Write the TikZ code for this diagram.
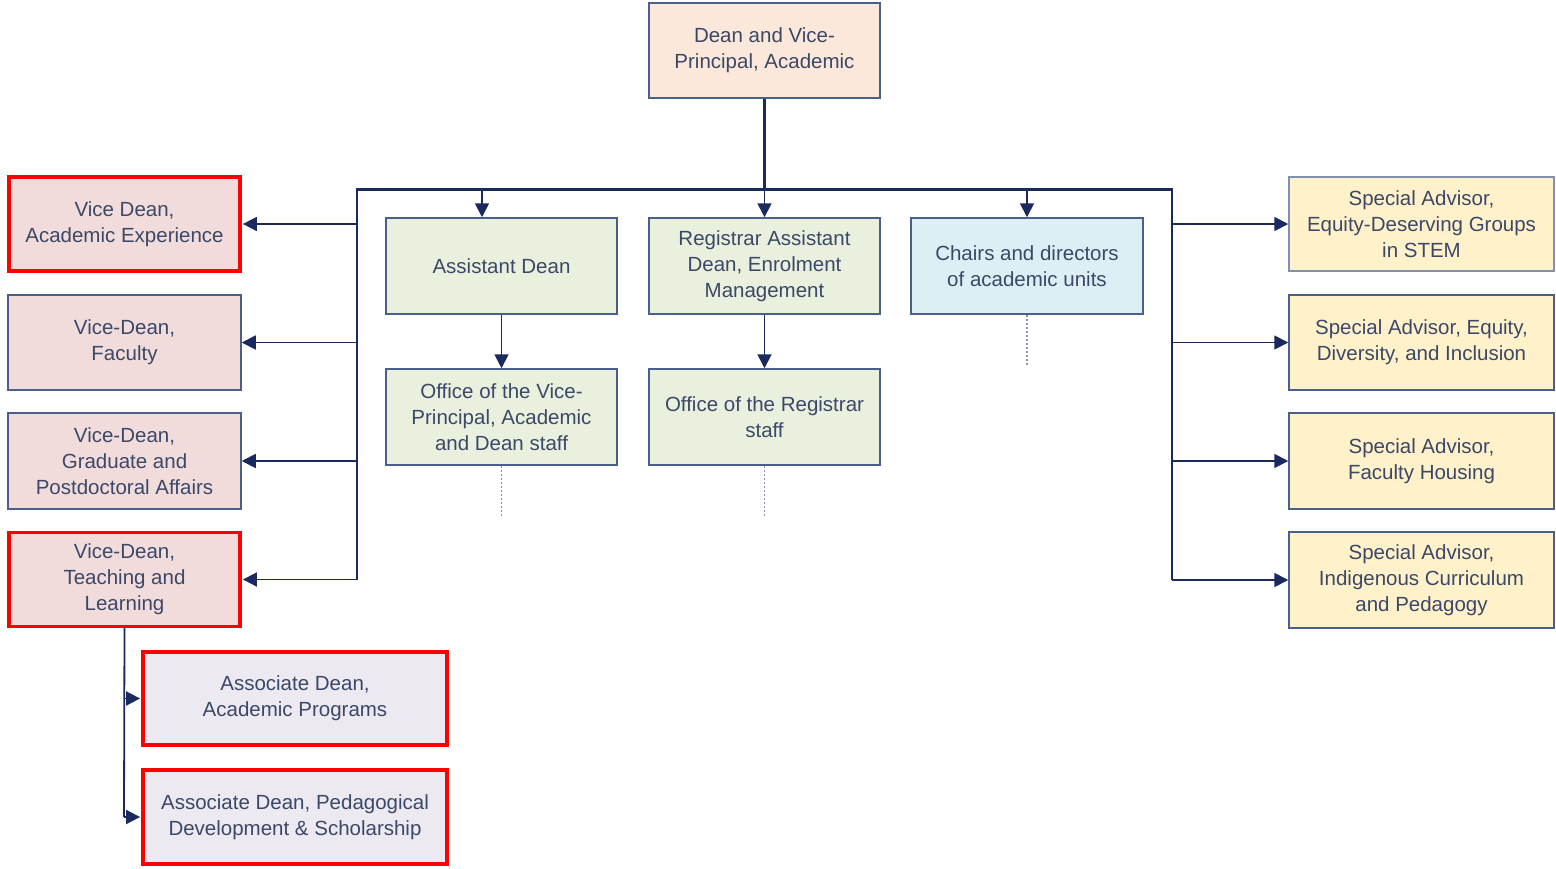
\documentclass[tikz,border=0pt]{standalone}
\usepackage{fontspec}
\setmainfont{Liberation Sans}
\usetikzlibrary{arrows.meta}
\definecolor{txt}{HTML}{3C4868}
\definecolor{bord}{HTML}{4A5F8C}
\definecolor{navy}{HTML}{1A2A5E}
\definecolor{peach}{HTML}{FCE8DA}
\definecolor{pink}{HTML}{F2DCDB}
\definecolor{green}{HTML}{EAF0DE}
\definecolor{lblue}{HTML}{DDEEF4}
\definecolor{yell}{HTML}{FFF1CA}
\definecolor{lav}{HTML}{ECE9F1}
\definecolor{redb}{HTML}{FF0000}
\definecolor{dotc}{HTML}{8A93A8}
\tikzset{
  box/.style={draw=bord, line width=1.5pt, text=txt, align=center,
    inner sep=0pt, font=\fontsize{20.5}{26}\selectfont},
  redbox/.style={box, draw=redb, line width=3.8pt},
  conn/.style={draw=navy, line width=1.8pt},
  arr/.style={conn, -{Triangle[length=14pt,width=14pt]}},
  dotline/.style={draw=dotc, line width=1.2pt, dash pattern=on 2pt off 2pt},
}
\begin{document}
\begin{tikzpicture}[x=1pt,y=-1pt]
\useasboundingbox (0,0) rectangle (1556,868);
% top
\node[box, fill=peach, minimum width=231pt, minimum height=95pt] (top) at (764.5,50.5) {Dean and Vice-\\Principal, Academic};
% middle row
\node[box, fill=green, minimum width=231pt, minimum height=96pt] (ad) at (501.5,266) {Assistant Dean};
\node[box, fill=green, minimum width=231pt, minimum height=96pt] (rad) at (764.5,266) {Registrar Assistant\\Dean, Enrolment\\Management};
\node[box, fill=lblue, minimum width=232pt, minimum height=96pt] (ch) at (1027,266) {Chairs and directors\\of academic units};
\node[box, fill=green, minimum width=231pt, minimum height=96pt] (ovp) at (501.5,417) {Office of the Vice-\\Principal, Academic\\and Dean staff};
\node[box, fill=green, minimum width=231pt, minimum height=96pt] (ors) at (764.5,417) {Office of the Registrar\\staff};
% left column
\node[redbox, fill=pink, minimum width=231pt, minimum height=94pt] (vd1) at (124.5,224) {Vice Dean,\\Academic Experience};
\node[box, fill=pink, minimum width=233pt, minimum height=95pt] (vd2) at (124.5,342.5) {Vice-Dean,\\Faculty};
\node[box, fill=pink, minimum width=233pt, minimum height=96pt] (vd3) at (124.5,461) {Vice-Dean,\\Graduate and\\Postdoctoral Affairs};
\node[redbox, fill=pink, minimum width=231pt, minimum height=94pt] (vd4) at (124.5,579.5) {Vice-Dean,\\Teaching and\\Learning};
% associates
\node[redbox, fill=lav, minimum width=304pt, minimum height=93pt] (as1) at (295,698.5) {Associate Dean,\\Academic Programs};
\node[redbox, fill=lav, minimum width=304pt, minimum height=94pt] (as2) at (295,817) {Associate Dean, Pedagogical\\Development \& Scholarship};
% right column
\node[box, fill=yell, minimum width=265pt, minimum height=94pt, draw=bord!70] (sa1) at (1421.5,224) {Special Advisor,\\Equity-Deserving Groups\\in STEM};
\node[box, fill=yell, minimum width=265pt, minimum height=95pt] (sa2) at (1421.5,342.5) {Special Advisor, Equity,\\Diversity, and Inclusion};
\node[box, fill=yell, minimum width=265pt, minimum height=96pt] (sa3) at (1421.5,461) {Special Advisor,\\Faculty Housing};
\node[box, fill=yell, minimum width=265pt, minimum height=96pt] (sa4) at (1421.5,580) {Special Advisor,\\Indigenous Curriculum\\and Pedagogy};
% bus coordinates
\coordinate (busL) at (357,189.5);
\coordinate (busR) at (1172,189.5);
\coordinate (lvB) at (357,579.5);
\coordinate (rvB) at (1172,580);
\coordinate (adT) at (482,189.5);
\coordinate (chT) at (1027,189.5);
% connectors
\draw[conn, line width=2.8pt] (top.south) -- (top.south |- busL);
\draw[conn, line width=2.2pt] (lvB) -- (busL) -- (busR) -- (rvB);
\draw[arr] (adT) -- (adT |- ad.north);
\draw[arr] (top.south |- busL) -- (rad.north);
\draw[arr] (chT) -- (ch.north);
\draw[arr] (ad.south) -- (ovp.north);
\draw[arr] (rad.south) -- (ors.north);
\draw[arr] (busL |- vd1.east) -- ([xshift=1pt]vd1.east);
\draw[arr] (busL |- vd2.east) -- (vd2.east);
\draw[arr] (busL |- vd3.east) -- (vd3.east);
\draw[arr] (lvB) -- ([xshift=1pt]vd4.east);
\draw[arr] (busR |- sa1.west) -- (sa1.west);
\draw[arr] (busR |- sa2.west) -- (sa2.west);
\draw[arr] (busR |- sa3.west) -- (sa3.west);
\draw[arr] (rvB) -- (sa4.west);
\coordinate (tlB) at (124,817);
\draw[conn] ([yshift=1pt]vd4.south) -- (tlB);
\draw[arr] (tlB |- as1.west) -- ([xshift=-1pt]as1.west);
\draw[arr] (tlB) -- ([xshift=-1pt]as2.west);
% dotted stubs
\coordinate (d1) at (501.5,517);
\coordinate (d2) at (764.5,517);
\coordinate (d3) at (1027,366);
\draw[dotline] (ovp.south) -- (d1);
\draw[dotline] (ors.south) -- (d2);
\draw[dotline] (ch.south) -- (d3);
\end{tikzpicture}
\end{document}
